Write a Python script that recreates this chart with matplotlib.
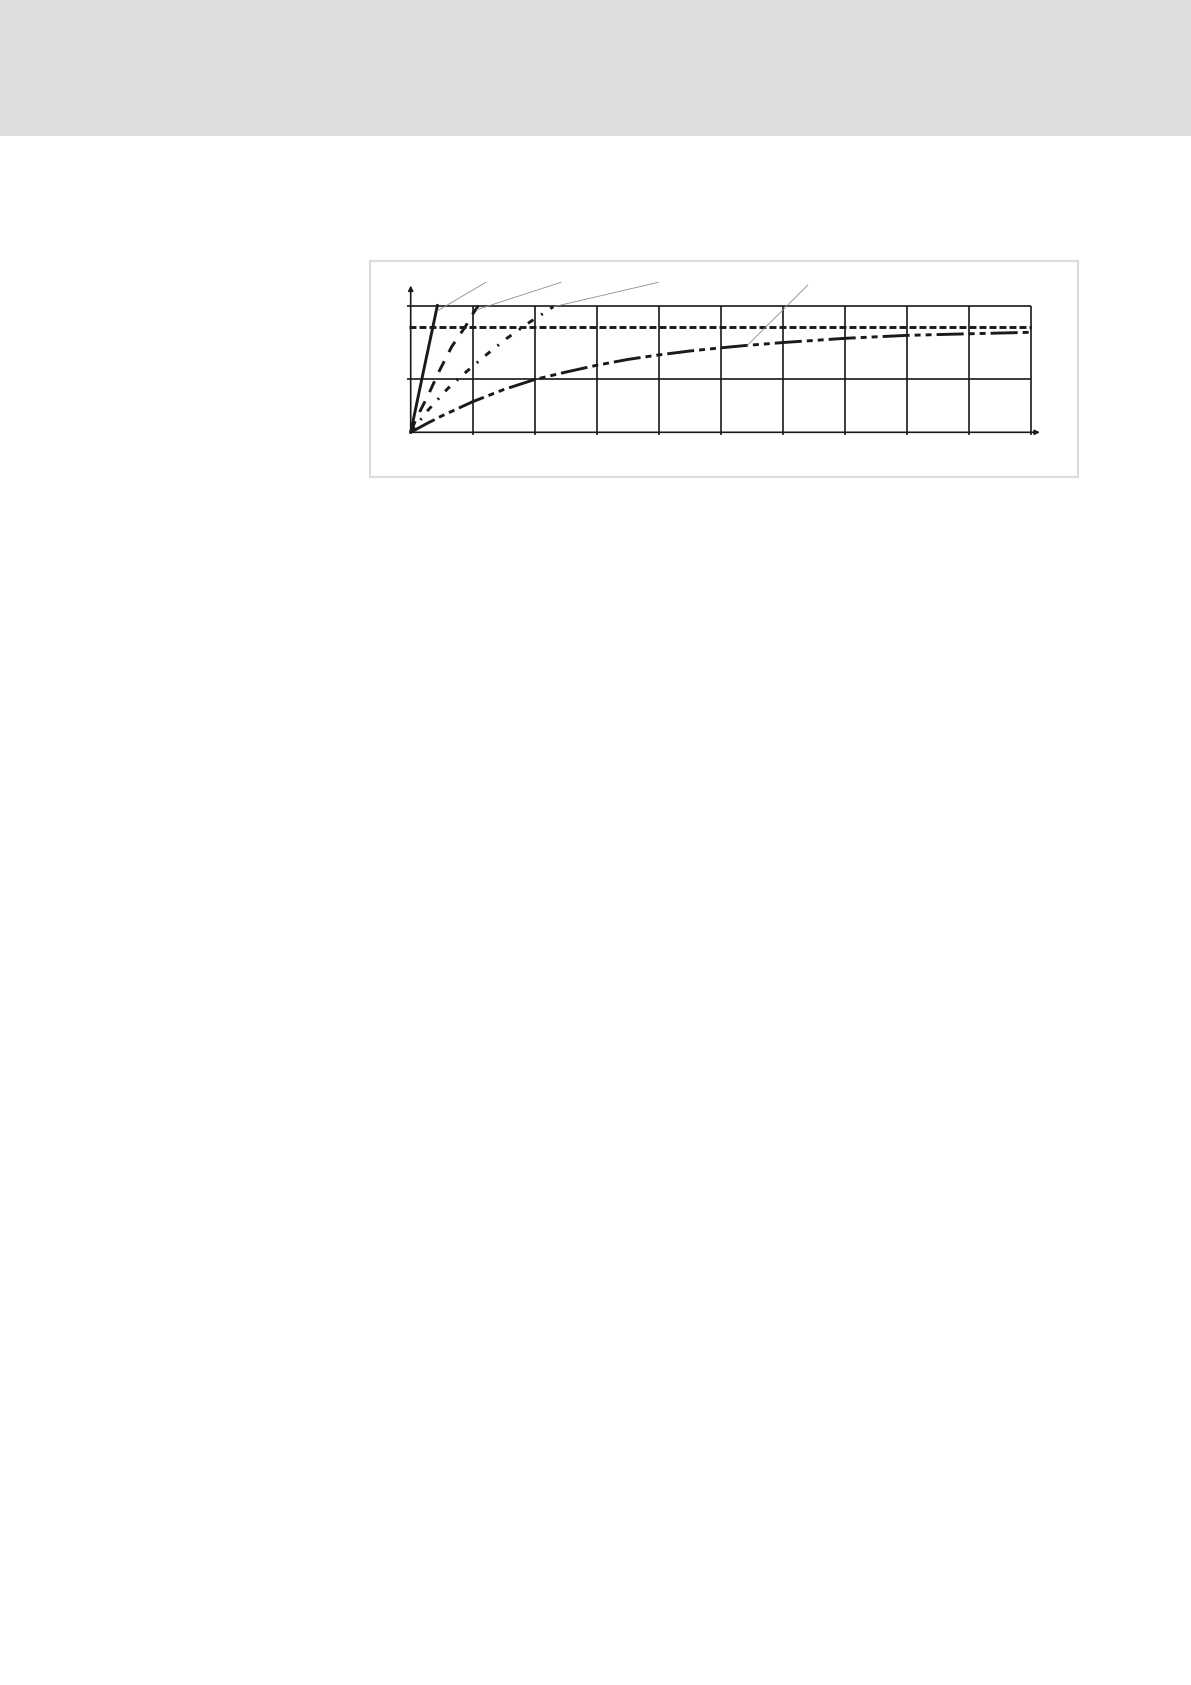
import matplotlib
matplotlib.use('Agg')
import matplotlib.pyplot as plt
from matplotlib.patches import Rectangle

plt.rcParams['lines.scale_dashes'] = False

# curves (x in grid units, y relative to the dashed setpoint = 1)
solid_x = [0, 0.21, 0.43]
solid_y = [0, 0.59, 1.2]

longdash_x = [0, 0.09, 0.28, 0.46, 0.66, 0.88, 1.0, 1.09]
longdash_y = [0, 0.13, 0.35, 0.58, 0.81, 1.0, 1.12, 1.2]

dashdot_x = [0, 0.28, 0.59, 0.74, 0.9, 1.22, 1.55, 1.91, 2.07, 2.3]
dashdot_y = [0, 0.21, 0.41, 0.49, 0.575, 0.735, 0.89, 1.04, 1.1, 1.19]

slow_x = [0, 0.25, 0.5, 1.0, 1.5, 2.0, 2.5, 3.0, 3.5, 4.0, 4.5, 5.0, 5.4, 6.0, 7.0, 8.0, 9.0, 10.0]
slow_y = [0, 0.08, 0.155, 0.29, 0.405, 0.5, 0.57, 0.635, 0.69, 0.733, 0.77, 0.80, 0.822, 0.85, 0.89, 0.918, 0.933, 0.947]

setpoint = 1.0
grid_x = [1, 2, 3, 4, 5, 6, 7, 8, 9, 10]
grid_y = [0.5, 1.2]

# leader lines (start on curve, end up top)
leaders = [
    ([0.43, 1.21], [1.15, 1.42]),
    ([1.06, 2.42], [1.16, 1.42]),
    ([2.31, 3.99], [1.19, 1.42]),
    ([5.42, 6.40], [0.82, 1.395]),
]

W, H = 1191, 1685
fig = plt.figure(figsize=(W / 100, H / 100), dpi=100)

# grey page header
fig.add_artist(Rectangle((0, 1 - 136 / H), 1, 136 / H, transform=fig.transFigure,
                         facecolor='#dedede', edgecolor='none'))
# light frame around the chart
fig.add_artist(Rectangle((370 / W, 1 - 477 / H), 708 / W, 216 / H, transform=fig.transFigure,
                         facecolor='none', edgecolor='#dcdcdc', lw=1.5))

# axes placed so that origin sits at px (410.7, 432.3), 62.05 px per x unit, 105.6 px per y unit
x0, y0, sx, sy = 410.7, 432.3, 62.05, 105.6
xl, yl = (-0.3, 10.3), (-0.2, 1.5)
left = x0 + xl[0] * sx
right = x0 + xl[1] * sx
bottom = y0 - yl[0] * sy
top = y0 - yl[1] * sy
ax = fig.add_axes([left / W, 1 - bottom / H, (right - left) / W, (bottom - top) / H])
ax.set_xlim(*xl)
ax.set_ylim(*yl)
ax.axis('off')

gc = '#1a1a1a'
for gx in grid_x:
    ax.plot([gx, gx], [-0.03, 1.2], color=gc, lw=1.2, solid_capstyle='butt')
for gy in grid_y:
    ax.plot([-0.06, 10], [gy, gy], color=gc, lw=1.2, solid_capstyle='butt')

# axes with arrows
ax.annotate('', xy=(10.14, 0), xytext=(0, 0),
            arrowprops=dict(arrowstyle='-|>', lw=1.2, color=gc, mutation_scale=7, shrinkA=0, shrinkB=0))
ax.annotate('', xy=(0, 1.39), xytext=(0, 0),
            arrowprops=dict(arrowstyle='-|>', lw=1.2, color=gc, mutation_scale=7, shrinkA=0, shrinkB=0))

# setpoint
ax.plot([-0.03, 10], [setpoint, setpoint], color=gc, lw=2.1, linestyle=(0, (5, 2.2)))

# curves
ax.plot(solid_x, solid_y, color=gc, lw=2.1)
ax.plot(longdash_x, longdash_y, color=gc, lw=2.1, linestyle=(0, (8.6, 7.4)))
ax.plot(dashdot_x, dashdot_y, color=gc, lw=2.1, linestyle=(0, (4.7, 6.6, 1.4, 6.6)))
ax.plot(slow_x, slow_y, color=gc, lw=2.1, linestyle=(0, (19.5, 3.6, 4.3, 3.6, 4.3, 3.6)))

for lx, ly in leaders:
    ax.plot(lx, ly, color='#8c8c8c', lw=0.6)

fig.savefig('out.png', dpi=100)
